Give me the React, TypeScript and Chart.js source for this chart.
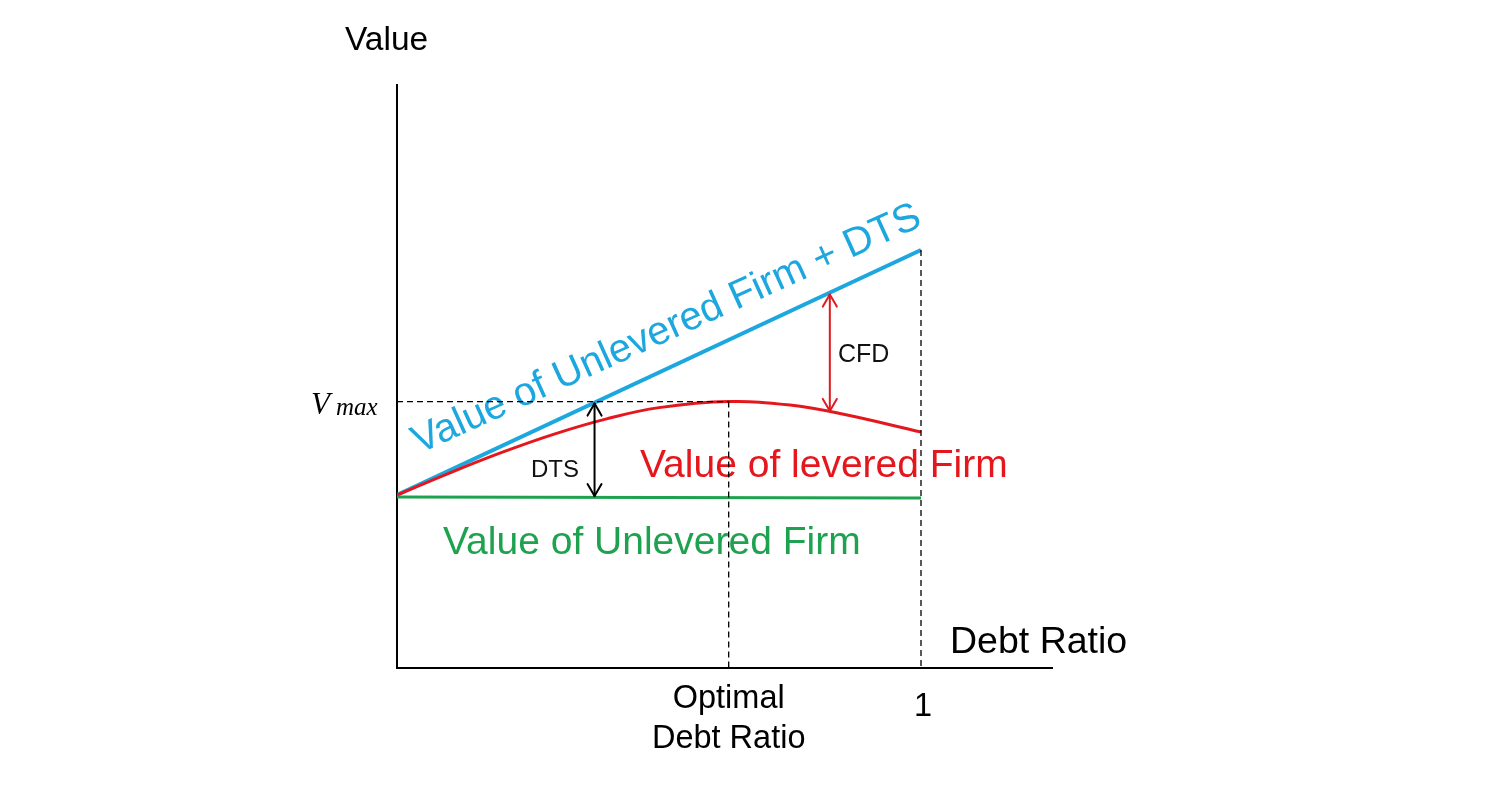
import React, { useEffect, useRef } from "react";
import { Chart, registerables } from "chart.js";

Chart.register(...registerables);

// Debt ratio (x) and firm values (y)
const debtRatio = [0, 0.1, 0.2, 0.3, 0.4, 0.5, 0.633, 0.75, 0.85, 1.0];
const leveredValue = [1.0, 1.127, 1.246, 1.352, 1.44, 1.505, 1.54, 1.52, 1.468, 1.364];
const unleveredPlusDtsX = [0, 1];
const unleveredPlusDts = [1.0, 2.416];
const unleveredX = [0, 1];
const unleveredValue = [0.988, 0.982];

const optimalDebtRatio = 0.633;
const vMax = 1.54;

// Arrows: [x, yTop, yBottom]
const dtsArrow = [0.377, 1.54, 0.988];
const cfdArrow = [0.826, 2.17, 1.48];

// Tick labels
const xTickLabels = ["Optimal", "Debt Ratio"];
const xTickOne = "1";

const BLUE = "#1ca7df";
const RED = "#e5171d";
const GREEN = "#1fa24f";
const SANS = '"Liberation Sans", Arial, sans-serif';
const SERIF = '"Liberation Serif", "Times New Roman", serif';

function pts(xs: number[], ys: number[]) {
  return xs.map((x, i) => ({ x, y: ys[i] }));
}

function arrowHead(ctx: CanvasRenderingContext2D, x: number, y: number, dir: number) {
  // dir: -1 pointing up, +1 pointing down
  ctx.beginPath();
  ctx.moveTo(x - 7, y - dir * 12);
  ctx.lineTo(x, y);
  ctx.lineTo(x + 7, y - dir * 12);
  ctx.stroke();
}

const annotations = {
  id: "annotations",
  beforeDatasetsDraw(chart: any) {
    const ctx: CanvasRenderingContext2D = chart.ctx;
    const xs = chart.scales.x;
    const ys = chart.scales.y;
    const px = (v: number) => xs.getPixelForValue(v);
    const py = (v: number) => ys.getPixelForValue(v);
    ctx.save();
    ctx.textBaseline = "alphabetic";
    ctx.textAlign = "left";

    // Axis titles
    ctx.fillStyle = "#000";
    ctx.font = `33.5px ${SANS}`;
    ctx.fillText("Value", 345, 50);
    ctx.font = `37.5px ${SANS}`;
    ctx.fillText("Debt Ratio", 950, 653);

    // X tick labels
    ctx.font = `32.5px ${SANS}`;
    ctx.textAlign = "center";
    ctx.fillText(xTickLabels[0], px(optimalDebtRatio), py(0) + 40);
    ctx.fillText(xTickLabels[1], px(optimalDebtRatio), py(0) + 80);
    ctx.fillText(xTickOne, px(1) + 2, py(0) + 48);

    // V_max label
    ctx.textAlign = "left";
    ctx.font = `italic 31px ${SERIF}`;
    ctx.fillText("V", 311, py(vMax) + 12);
    ctx.font = `italic 25px ${SERIF}`;
    ctx.fillText("max", 336, py(vMax) + 13);

    // Series labels
    ctx.font = `39px ${SANS}`;
    ctx.fillStyle = RED;
    ctx.fillText("Value of levered Firm", 640, 477);
    ctx.fillStyle = GREEN;
    ctx.fillText("Value of Unlevered Firm", 443, 554);

    // Blue rotated label
    ctx.save();
    ctx.translate(px(0.042), py(1.237));
    ctx.rotate((-24.4 * Math.PI) / 180);
    ctx.fillStyle = BLUE;
    ctx.font = `40px ${SANS}`;
    ctx.fillText("Value of Unlevered Firm + DTS", 0, 0);
    ctx.restore();

    // Arrow labels
    ctx.fillStyle = "#111";
    ctx.font = `24px ${SANS}`;
    ctx.fillText("DTS", 531, 477);
    ctx.font = `25px ${SANS}`;
    ctx.fillText("CFD", 838, 362);
    ctx.restore();
  },
  afterDatasetsDraw(chart: any) {
    const ctx: CanvasRenderingContext2D = chart.ctx;
    const xs = chart.scales.x;
    const ys = chart.scales.y;
    const px = (v: number) => xs.getPixelForValue(v);
    const py = (v: number) => ys.getPixelForValue(v);
    ctx.save();
    ctx.lineWidth = 2;
    ctx.lineCap = "round";
    ctx.lineJoin = "round";
    const arrows: [number[], string][] = [
      [dtsArrow, "#000"],
      [cfdArrow, "#e01a1f"],
    ];
    arrows.forEach(([a, color]) => {
      const x = px(a[0]);
      const y1 = py(a[1]) + 2;
      const y2 = py(a[2]) - 1;
      ctx.strokeStyle = color;
      ctx.beginPath();
      ctx.moveTo(x, y1);
      ctx.lineTo(x, y2);
      ctx.stroke();
      arrowHead(ctx, x, y1, -1);
      arrowHead(ctx, x, y2, 1);
    });
    ctx.restore();
  },
};

export default function App() {
  const ref = useRef<HTMLCanvasElement | null>(null);
  useEffect(() => {
    if (!ref.current) return;
    const dash = {
      borderColor: "#000",
      borderWidth: 1.3,
      borderDash: [6, 4],
      pointRadius: 0,
      fill: false,
      tension: 0,
    };
    const chart = new Chart(ref.current, {
      type: "line",
      data: {
        datasets: [
          { ...dash, data: [{ x: 0, y: vMax }, { x: optimalDebtRatio, y: vMax }] },
          { ...dash, data: [{ x: optimalDebtRatio, y: vMax }, { x: optimalDebtRatio, y: 0 }] },
          { ...dash, data: [{ x: 1, y: unleveredPlusDts[1] }, { x: 1, y: 0 }] },
          {
            data: pts(unleveredX, unleveredValue),
            borderColor: GREEN,
            borderWidth: 3,
            pointRadius: 0,
            fill: false,
          },
          {
            data: pts(debtRatio, leveredValue),
            borderColor: RED,
            borderWidth: 3,
            pointRadius: 0,
            fill: false,
            tension: 0.4,
          },
          {
            data: pts(unleveredPlusDtsX, unleveredPlusDts),
            borderColor: BLUE,
            borderWidth: 4,
            pointRadius: 0,
            fill: false,
          },
        ],
      },
      options: {
        responsive: false,
        animation: false,
        devicePixelRatio: 1,
        layout: { padding: { left: 397, right: 448, top: 85, bottom: 120 } },
        plugins: { legend: { display: false }, tooltip: { enabled: false } },
        scales: {
          x: {
            type: "linear",
            min: 0,
            max: 1.25,
            grid: { display: false, drawTicks: false },
            ticks: { display: false },
            border: { display: true, color: "#000", width: 2 },
          },
          y: {
            type: "linear",
            min: 0,
            max: 3.37,
            grid: { display: false, drawTicks: false },
            ticks: { display: false },
            border: { display: true, color: "#000", width: 2 },
          },
        },
      },
      plugins: [annotations],
    } as any);
    return () => chart.destroy();
  }, []);
  return (
    <div style={{ position: "absolute", left: 0, top: 0, width: 1500, height: 788, background: "#fff" }}>
      <canvas ref={ref} width={1500} height={788} />
    </div>
  );
}
